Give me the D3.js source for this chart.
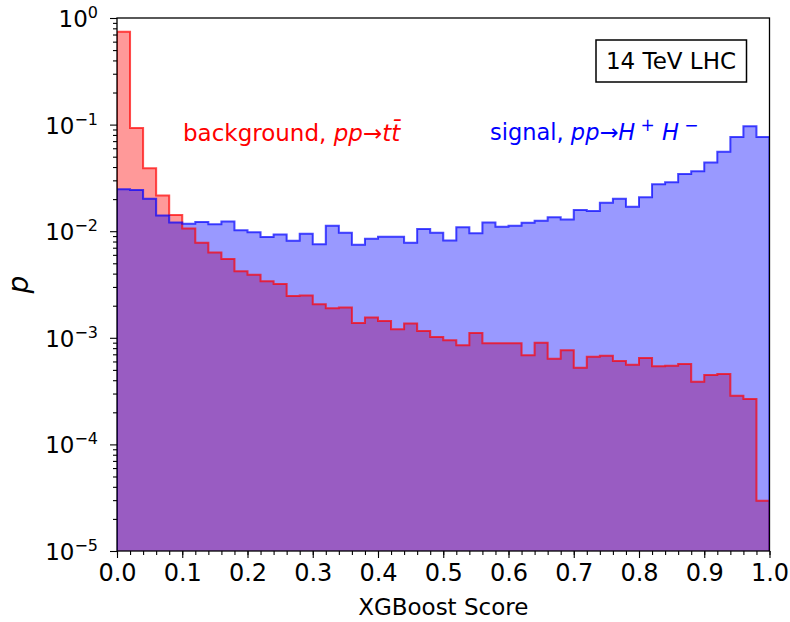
<!DOCTYPE html>
<html>
  <head>
    <script src="https://d3js.org/d3.v7.min.js"></script>
    <style>
      body { margin: 0; background: #fff; }
      text { font-family: "DejaVu Sans", sans-serif; }
      .axis path { stroke: none; }
      .axis line { stroke: #000; stroke-width: 1.1px; }
    </style>
  </head>
  <body>
    <div id="chart"></div>
    <script>
      // bin edges: 50 bins of width 0.02 on [0, 1]
      const nBins = 50;
      const binWidth = 0.02;

      // background, pp -> t tbar (normalised per bin)
      const background = [
        0.744, 0.093, 0.039, 0.0216, 0.0142, 0.0106, 0.0078, 0.0063, 0.0055, 0.0042,
        0.0039, 0.0034, 0.0032, 0.00247, 0.0025, 0.00206, 0.00189, 0.00192, 0.00138, 0.00155,
        0.00144, 0.0012, 0.00136, 0.00116, 0.00102, 0.00095, 0.00085, 0.00111, 0.00089, 0.00089,
        0.00089, 0.000686, 0.0009, 0.000637, 0.000763, 0.000525, 0.000665, 0.00068, 0.000605, 0.00056,
        0.000647, 0.00054, 0.000548, 0.000568, 0.000388, 0.000448, 0.000457, 0.000286, 0.000267, 0.0000296
      ];

      // signal, pp -> H+ H-
      const signal = [
        0.0247, 0.0244, 0.0202, 0.014, 0.0121, 0.01175, 0.0122, 0.0116, 0.0123, 0.0102,
        0.0098, 0.0088, 0.0093, 0.00814, 0.00947, 0.00753, 0.01127, 0.00968, 0.00747, 0.0085,
        0.00888, 0.00888, 0.0078, 0.0105, 0.00968, 0.0082, 0.0109, 0.00955, 0.0121, 0.011,
        0.01127, 0.012, 0.01254, 0.0135, 0.0129, 0.0158, 0.0155, 0.0185, 0.0202, 0.017,
        0.0208, 0.0275, 0.0288, 0.0344, 0.0365, 0.044, 0.0557, 0.0765, 0.0964, 0.0765
      ];

      const xTicks = [0, 0.1, 0.2, 0.3, 0.4, 0.5, 0.6, 0.7, 0.8, 0.9, 1.0];
      const yExponents = [0, -1, -2, -3, -4, -5];

      const width = 790, height = 622;
      const margin = { left: 117, right: 769.5, top: 18, bottom: 551 };

      const svg = d3.select("#chart").append("svg")
        .attr("width", width)
        .attr("height", height);

      const x = d3.scaleLinear().domain([0, 1]).range([margin.left, margin.right]);
      const y = d3.scaleLog().domain([1e-5, 1]).range([margin.bottom, margin.top]);

      svg.append("clipPath").attr("id", "plot-clip")
        .append("rect")
        .attr("x", margin.left).attr("y", margin.top)
        .attr("width", margin.right - margin.left)
        .attr("height", margin.bottom - margin.top);

      // step outline of a histogram, closed down to the bottom of the axes
      function stepPoints(values) {
        const pts = [[0, 1e-6]];
        values.forEach((v, i) => {
          pts.push([i * binWidth, v]);
          pts.push([(i + 1) * binWidth, v]);
        });
        pts.push([nBins * binWidth, 1e-6]);
        return pts;
      }

      const line = d3.line()
        .x(d => x(d[0]))
        .y(d => Math.min(y(d[1]), margin.bottom + 20));

      const plot = svg.append("g").attr("clip-path", "url(#plot-clip)");

      const series = [
        { values: background, color: "#ff0000" },
        { values: signal, color: "#0000ff" }
      ];

      // fills first, then outlines
      series.forEach(s => {
        plot.append("path")
          .attr("d", line(stepPoints(s.values)) + "Z")
          .attr("fill", s.color)
          .attr("fill-opacity", 0.4)
          .attr("stroke", "none");
      });
      series.forEach(s => {
        plot.append("path")
          .attr("d", line(stepPoints(s.values)))
          .attr("fill", "none")
          .attr("stroke", s.color)
          .attr("stroke-opacity", 0.7)
          .attr("stroke-width", 2);
      });

      // x axis: major + minor ticks
      const xMinor = d3.range(0, 51).map(i => i * binWidth);
      svg.append("g").attr("class", "axis")
        .attr("transform", `translate(0,${margin.bottom})`)
        .call(d3.axisBottom(x).tickValues(xMinor).tickSize(4).tickFormat(""));
      const xAxis = svg.append("g").attr("class", "axis")
        .attr("transform", `translate(0,${margin.bottom})`)
        .call(d3.axisBottom(x).tickValues(xTicks).tickSize(7).tickPadding(6)
          .tickFormat(d3.format(".1f")));
      xAxis.selectAll("text")
        .attr("font-size", "24px")
        .attr("font-family", "DejaVu Sans")
        .attr("fill", "#000")
        .attr("dy", "0.71em");

      // y axis: log ticks
      const yMinor = [];
      for (let e = -5; e < 0; e++) {
        for (let k = 2; k <= 9; k++) yMinor.push(k * Math.pow(10, e));
      }
      svg.append("g").attr("class", "axis")
        .attr("transform", `translate(${margin.left},0)`)
        .call(d3.axisLeft(y).tickValues(yMinor).tickSize(4).tickFormat(""));
      const yAxis = svg.append("g").attr("class", "axis")
        .attr("transform", `translate(${margin.left},0)`)
        .call(d3.axisLeft(y).tickValues(yExponents.map(e => Math.pow(10, e)))
          .tickSize(7).tickFormat(""));

      yAxis.selectAll(".tick").each(function (d) {
        const e = Math.round(Math.log10(d));
        const t = d3.select(this).append("text")
          .attr("x", -19)
          .attr("y", 8.5)
          .attr("text-anchor", "end")
          .attr("fill", "#000")
          .attr("font-size", "23px");
        t.append("tspan").text("10");
        t.append("tspan")
          .attr("dy", -9)
          .attr("font-size", "16px")
          .text(e === 0 ? "0" : "\u2212" + Math.abs(e));
      });

      // frame
      svg.append("rect")
        .attr("x", margin.left).attr("y", margin.top)
        .attr("width", margin.right - margin.left)
        .attr("height", margin.bottom - margin.top)
        .attr("fill", "none")
        .attr("stroke", "#000")
        .attr("stroke-width", 1.3);

      // axis labels
      svg.append("text")
        .attr("x", (margin.left + margin.right) / 2)
        .attr("y", 615)
        .attr("text-anchor", "middle")
        .attr("font-size", "23px")
        .text("XGBoost Score");

      svg.append("text")
        .attr("transform", `translate(28,${(margin.top + margin.bottom) / 2}) rotate(-90)`)
        .attr("text-anchor", "middle")
        .attr("font-size", "28px")
        .attr("font-style", "italic")
        .text("p");

      // annotations
      const bkgLabel = svg.append("text")
        .attr("x", 183).attr("y", 141)
        .attr("fill", "#ff0000")
        .attr("font-size", "23px");
      bkgLabel.append("tspan").text("background, ");
      bkgLabel.append("tspan").attr("font-style", "italic").text("pp");
      bkgLabel.append("tspan").text("\u2192");
      bkgLabel.append("tspan").attr("font-style", "italic").text("t");
      bkgLabel.append("tspan").attr("font-style", "italic").text("t\u0304");

      const sigLabel = svg.append("text")
        .attr("x", 490).attr("y", 140)
        .attr("fill", "#0000ff")
        .attr("font-size", "22.5px");
      sigLabel.append("tspan").text("signal, ");
      sigLabel.append("tspan").attr("font-style", "italic").text("pp");
      sigLabel.append("tspan").text("\u2192");
      sigLabel.append("tspan").attr("font-style", "italic").text("H");
      sigLabel.append("tspan").attr("dy", -9).attr("font-size", "17px").text(" +");
      sigLabel.append("tspan").attr("dy", 9).attr("font-style", "italic").text(" H");
      sigLabel.append("tspan").attr("dy", -9).attr("font-size", "17px").text(" \u2212");

      svg.append("rect")
        .attr("x", 596).attr("y", 40)
        .attr("width", 150.5).attr("height", 42)
        .attr("fill", "#fff")
        .attr("stroke", "#000")
        .attr("stroke-width", 1.5);
      svg.append("text")
        .attr("x", 671).attr("y", 69)
        .attr("text-anchor", "middle")
        .attr("font-size", "23px")
        .text("14 TeV LHC");
    </script>
  </body>
</html>
